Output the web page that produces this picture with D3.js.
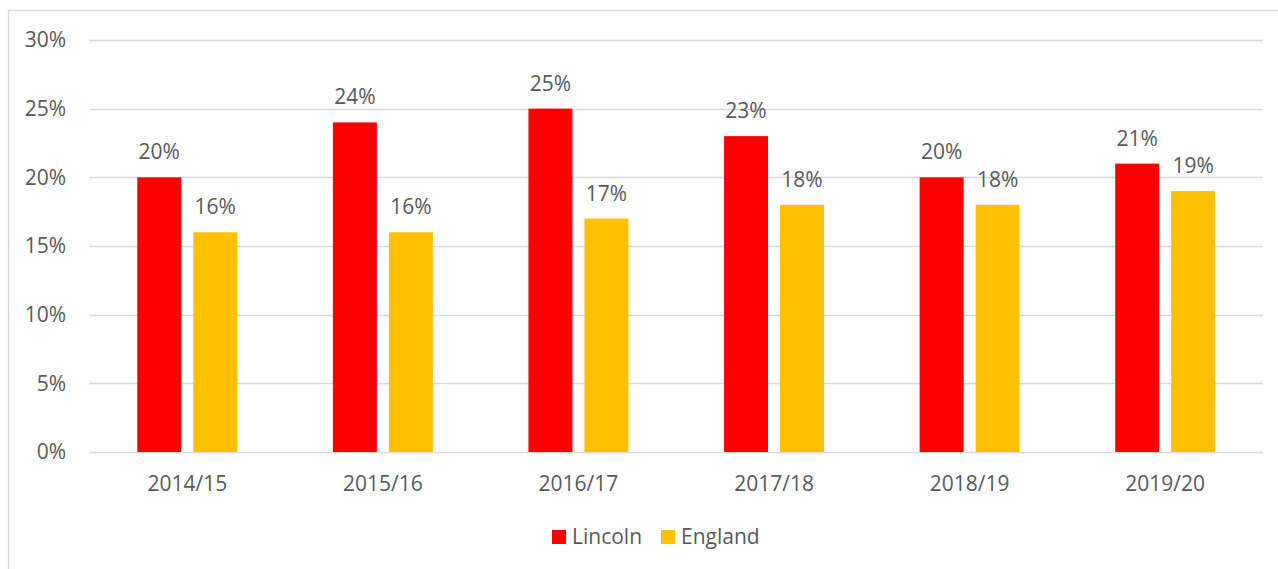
<!DOCTYPE html>
<html>
<head>
<meta charset="utf-8">
<script src="https://cdn.jsdelivr.net/npm/d3@7/dist/d3.min.js"></script>
<style>
  html, body { margin: 0; padding: 0; background: #fff; }
  svg { display: block; }
  text { font-family: "Open Sans", sans-serif; fill: #595959; }
</style>
</head>
<body>
<svg id="chart" width="1278" height="569"></svg>
<script>
const categories = ["2014/15", "2015/16", "2016/17", "2017/18", "2018/19", "2019/20"];
const seriesNames = ["Lincoln", "England"];
const lincoln = [20, 24, 25, 23, 20, 21];
const england = [16, 16, 17, 18, 18, 19];
const yTicks = [0, 5, 10, 15, 20, 25, 30];
const colors = ["#FF0000", "#FFC000"];

const svg = d3.select("#chart");
const W = 1278, H = 569;
const plot = { left: 89.5, right: 1263, top: 40, bottom: 452 };
const fontSize = 21;

// Outer chart frame
svg.append("rect")
  .attr("x", 8.5).attr("y", 10.5)
  .attr("width", W + 20).attr("height", H + 20)
  .attr("fill", "none").attr("stroke", "#d9d9d9").attr("stroke-width", 1.5);

const x = d3.scaleBand().domain(categories).range([plot.left, plot.right]).padding(0);
const y = d3.scaleLinear().domain([0, 30]).range([plot.bottom, plot.top]);

// Horizontal gridlines
svg.append("g").selectAll("line").data(yTicks).join("line")
  .attr("x1", plot.left).attr("x2", plot.right)
  .attr("y1", d => Math.round(y(d)) + 0.5).attr("y2", d => Math.round(y(d)) + 0.5)
  .attr("stroke", "#d9d9d9").attr("stroke-width", 1.5);

// Y axis labels
const yAxis = d3.axisLeft(y).tickValues(yTicks).tickFormat(d => d + "%").tickSize(0).tickPadding(0);
const yg = svg.append("g").attr("transform", "translate(66,0)").call(yAxis);
yg.select(".domain").remove();
yg.selectAll("text").attr("font-size", fontSize).attr("font-family", "Open Sans").attr("fill", "#595959");

// X axis labels
const xAxis = d3.axisBottom(x).tickSize(0).tickPadding(0);
const xg = svg.append("g").attr("transform", `translate(0,${plot.bottom + 24})`).call(xAxis);
xg.select(".domain").remove();
xg.selectAll("text").attr("font-size", fontSize).attr("font-family", "Open Sans").attr("fill", "#595959");

// Bars with value labels, two per category
const barW = 44, gap = 12;
const series = [lincoln, england];
series.forEach((vals, si) => {
  const g = svg.append("g");
  const data = categories.map((c, i) => ({ c, v: vals[i] }));
  const bx = d => x(d.c) + x.bandwidth() / 2 + (si === 0 ? -gap / 2 - barW : gap / 2);
  g.selectAll("rect").data(data).join("rect")
    .attr("x", bx)
    .attr("y", d => y(d.v))
    .attr("width", barW)
    .attr("height", d => y(0) - y(d.v))
    .attr("fill", colors[si]);
  g.selectAll("text").data(data).join("text")
    .attr("x", d => bx(d) + barW / 2)
    .attr("y", d => y(d.v) - 18)
    .attr("text-anchor", "middle")
    .attr("font-size", fontSize)
    .text(d => d.v + "%");
});

// Legend
const legend = svg.append("g");
const legendItems = [
  { name: seriesNames[0], color: colors[0], x: 552 },
  { name: seriesNames[1], color: colors[1], x: 661 }
];
legendItems.forEach(it => {
  legend.append("rect").attr("x", it.x).attr("y", 530).attr("width", 14).attr("height", 14).attr("fill", it.color);
  legend.append("text").attr("x", it.x + 20).attr("y", 544).attr("font-size", fontSize).text(it.name);
});
</script>
</body>
</html>
